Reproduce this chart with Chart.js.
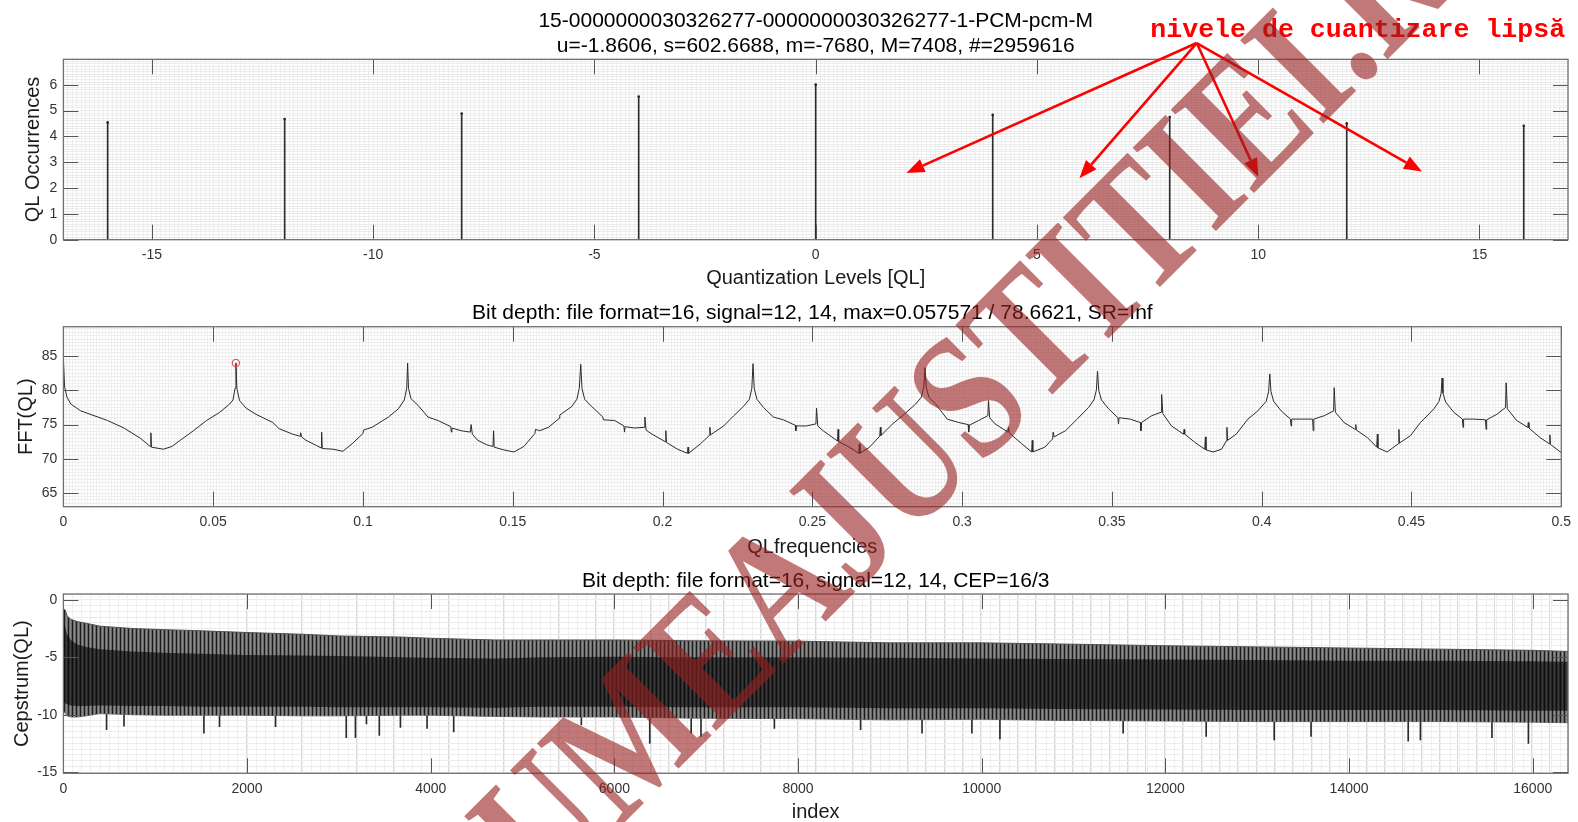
<!DOCTYPE html>
<html>
<head>
<meta charset="utf-8">
<script src="https://cdn.jsdelivr.net/npm/chart.js@4.4.1/dist/chart.umd.min.js"></script>
<style>
  body { margin: 0; background: #fff; }
  #wrap { position: relative; width: 1578px; height: 822px; overflow: hidden; }
  canvas { position: absolute; left: 0; }
</style>
</head>
<body>
<div id="wrap">
  <canvas id="c1" width="1578" height="290" style="top:0"></canvas>
  <canvas id="c2" width="1578" height="270" style="top:290px"></canvas>
  <canvas id="c3" width="1578" height="262" style="top:560px"></canvas>
  <canvas id="wm" width="1578" height="822" style="top:0;pointer-events:none"></canvas>
</div>
<script>
// ---- panel 1: histogram of quantization levels
var qlLevels = [-16, -12, -8, -4, 0, 4, 8, 12, 16];
var qlOccurrences = [4.54, 4.67, 4.88, 5.54, 6.0, 4.83, 4.75, 4.50, 4.41];

// ---- panel 2: FFT of the histogram
var fftFreq = [
  0.0000, 0.0004, 0.0012, 0.0025, 0.0058, 0.0147, 0.0202, 0.0257, 0.0290, 0.0292, 0.0294, 0.0334,
  0.0362, 0.0390, 0.0434, 0.0478, 0.0522, 0.0555, 0.0566, 0.0573, 0.0576, 0.0579, 0.0588, 0.0610,
  0.0643, 0.0699, 0.0720, 0.0765, 0.0790, 0.0792, 0.0795, 0.0810, 0.0842, 0.0860, 0.0862, 0.0864,
  0.0900, 0.0933, 0.0964, 0.1000, 0.1002, 0.1030, 0.1085, 0.1118, 0.1138, 0.1146, 0.1149, 0.1152,
  0.1160, 0.1184, 0.1217, 0.1250, 0.1293, 0.1295, 0.1297, 0.1328, 0.1358, 0.1361, 0.1365, 0.1383,
  0.1416, 0.1434, 0.1436, 0.1438, 0.1470, 0.1504, 0.1537, 0.1574, 0.1576, 0.1590, 0.1619, 0.1655,
  0.1657, 0.1696, 0.1714, 0.1722, 0.1727, 0.1731, 0.1740, 0.1762, 0.1801, 0.1802, 0.1840, 0.1871,
  0.1873, 0.1875, 0.1906, 0.1939, 0.1941, 0.1945, 0.1961, 0.2009, 0.2011, 0.2013, 0.2050, 0.2083,
  0.2085, 0.2087, 0.2127, 0.2156, 0.2158, 0.2160, 0.2204, 0.2238, 0.2271, 0.2290, 0.2298, 0.2302,
  0.2306, 0.2315, 0.2337, 0.2370, 0.2403, 0.2443, 0.2445, 0.2447, 0.2480, 0.2512, 0.2514, 0.2518,
  0.2536, 0.2584, 0.2586, 0.2588, 0.2624, 0.2655, 0.2657, 0.2659, 0.2691, 0.2725, 0.2727, 0.2729,
  0.2768, 0.2801, 0.2845, 0.2864, 0.2872, 0.2876, 0.2880, 0.2889, 0.2912, 0.2950, 0.2989, 0.3020,
  0.3022, 0.3024, 0.3055, 0.3086, 0.3088, 0.3092, 0.3110, 0.3153, 0.3155, 0.3157, 0.3199, 0.3232,
  0.3234, 0.3236, 0.3276, 0.3302, 0.3304, 0.3307, 0.3345, 0.3384, 0.3422, 0.3440, 0.3448, 0.3452,
  0.3456, 0.3465, 0.3489, 0.3520, 0.3522, 0.3524, 0.3561, 0.3595, 0.3597, 0.3599, 0.3633, 0.3664,
  0.3666, 0.3670, 0.3699, 0.3739, 0.3741, 0.3743, 0.3777, 0.3810, 0.3812, 0.3814, 0.3838, 0.3866,
  0.3882, 0.3884, 0.3886, 0.3915, 0.3954, 0.3987, 0.4015, 0.4023, 0.4027, 0.4031, 0.4040, 0.4065,
  0.4096, 0.4098, 0.4100, 0.4131, 0.4170, 0.4172, 0.4174, 0.4209, 0.4240, 0.4242, 0.4246, 0.4275,
  0.4312, 0.4314, 0.4316, 0.4353, 0.4384, 0.4386, 0.4388, 0.4419, 0.4456, 0.4458, 0.4460, 0.4497,
  0.4530, 0.4575, 0.4592, 0.4599, 0.4602, 0.4605, 0.4614, 0.4641, 0.4670, 0.4672, 0.4674, 0.4708,
  0.4747, 0.4749, 0.4751, 0.4785, 0.4814, 0.4816, 0.4820, 0.4851, 0.4888, 0.4890, 0.4892, 0.4929,
  0.4960, 0.4962, 0.4964, 0.5000
];
var fftValue = [
  84.6, 80.5, 79.0, 78.0, 77.0, 75.6, 74.5, 73.0, 71.8, 73.8, 71.7, 71.4,
  71.8, 72.7, 74.1, 75.6, 76.8, 78.0, 78.6, 80.3, 84.0, 80.3, 78.5, 77.4,
  76.5, 75.3, 74.4, 73.6, 73.3, 73.8, 73.2, 72.7, 72.0, 71.6, 73.9, 71.5,
  71.4, 71.1, 72.2, 73.7, 74.2, 74.6, 76.1, 77.3, 78.6, 80.3, 84.0, 80.3,
  78.8, 77.8, 76.1, 75.6, 74.7, 73.9, 74.5, 74.1, 73.9, 75.0, 73.6, 72.7,
  72.0, 71.8, 74.1, 71.7, 71.3, 71.0, 71.8, 73.7, 74.3, 74.1, 74.6, 75.9,
  76.4, 77.6, 78.7, 80.3, 83.8, 80.3, 78.7, 77.7, 76.1, 75.7, 75.6, 74.8,
  73.9, 74.7, 74.5, 74.6, 76.1, 74.2, 73.7, 72.5, 74.1, 72.4, 71.4, 70.8,
  71.7, 70.8, 72.2, 73.4, 74.6, 73.5, 74.8, 76.3, 77.7, 78.7, 80.3, 83.9,
  80.3, 78.7, 77.5, 76.1, 75.7, 74.9, 74.1, 74.8, 74.8, 75.1, 77.4, 74.8,
  74.1, 72.6, 74.3, 72.5, 71.7, 70.8, 72.2, 70.8, 71.7, 73.3, 74.6, 73.4,
  75.1, 76.3, 78.0, 79.0, 80.5, 83.3, 80.5, 79.0, 78.0, 75.8, 75.3, 75.0,
  73.9, 74.9, 75.6, 76.3, 78.5, 76.0, 75.1, 73.9, 74.6, 73.8, 72.2, 71.0,
  72.7, 71.0, 71.7, 72.9, 73.9, 73.2, 74.1, 75.8, 77.5, 78.6, 80.0, 82.8,
  80.0, 78.6, 77.3, 76.0, 75.1, 76.0, 75.8, 75.3, 74.1, 75.3, 76.3, 76.8,
  79.4, 76.6, 74.8, 73.6, 74.3, 73.6, 72.4, 71.4, 73.2, 71.3, 71.0, 71.4,
  72.6, 74.6, 72.7, 73.6, 75.8, 77.0, 78.4, 79.8, 82.4, 79.8, 78.4, 77.0,
  75.8, 74.8, 75.8, 75.8, 75.8, 74.1, 75.8, 76.3, 77.0, 80.4, 76.8, 75.3,
  74.3, 75.0, 74.2, 73.1, 71.7, 73.6, 71.6, 71.0, 72.2, 74.3, 72.3, 73.4,
  75.3, 77.3, 78.4, 79.6, 81.8, 79.6, 78.3, 76.8, 75.8, 74.6, 75.8, 75.8,
  75.7, 74.3, 75.7, 76.5, 77.5, 81.1, 77.3, 75.6, 74.6, 75.3, 74.5, 73.1,
  72.2, 73.5, 72.1, 70.9
];
var fftPeakFreq = 0.057571;
var fftPeakValue = 84.0;

// ---- panel 3: cepstrum, drawn as its envelope band
var cepIndex     = [0, 20, 40, 80, 150, 250, 400, 750, 1100, 1500, 2000, 2600, 3000, 3700, 4000, 4700, 5200, 6000, 6850, 8000, 9000, 10000, 10850, 12000, 13000, 14000, 15000, 16000, 16384];
var cepUpper     = [-0.8, -0.9, -1.4, -1.7, -1.9, -2.05, -2.3, -2.5, -2.6, -2.7, -2.85, -3.0, -3.15, -3.25, -3.35, -3.5, -3.5, -3.5, -3.57, -3.6, -3.75, -3.75, -3.85, -4.0, -4.1, -4.2, -4.3, -4.4, -4.5];
var cepLower     = [-9.6, -9.9, -10.1, -10.2, -10.2, -10.1, -9.9, -10.0, -10.05, -10.05, -10.05, -10.1, -10.1, -10.05, -10.05, -10.15, -10.2, -10.2, -10.3, -10.35, -10.45, -10.4, -10.5, -10.55, -10.6, -10.6, -10.6, -10.65, -10.7];
var cepCoreUpper = [-2.0, -2.4, -3.0, -3.5, -3.9, -4.1, -4.3, -4.5, -4.6, -4.7, -4.8, -4.85, -4.9, -5.0, -5.05, -5.1, -5.0, -4.95, -5.0, -5.0, -5.05, -5.1, -5.15, -5.2, -5.25, -5.3, -5.3, -5.35, -5.4];
var cepCoreLower = [-8.8, -9.0, -9.1, -9.2, -9.25, -9.25, -9.2, -9.25, -9.25, -9.3, -9.3, -9.3, -9.35, -9.35, -9.35, -9.4, -9.3, -9.3, -9.35, -9.35, -9.45, -9.45, -9.5, -9.55, -9.6, -9.6, -9.6, -9.65, -9.65];
var cepSpikeIndex = [470, 660, 1530, 1700, 2310, 3080, 3180, 3300, 3440, 3670, 3960, 4250, 5640, 6385, 6836, 6943, 7742, 8681, 9350, 9893, 10198, 11540, 12444, 13185, 13586, 14644, 14777, 15556, 15953];
var cepSpikeLow   = [-11.3, -11.0, -11.6, -11.05, -11.05, -12.0, -12.0, -10.8, -11.8, -11.1, -11.2, -11.5, -10.9, -12.5, -11.6, -11.9, -11.2, -11.3, -11.6, -11.6, -12.1, -11.6, -11.9, -12.2, -11.9, -12.3, -12.2, -12.0, -12.5];
var cepSpikeTop = -9.4;
var cepTicks = [0, 2000, 4000, 6000, 8000, 10000, 12000, 14000, 16000];

// ---- red note on panel 1 (data coordinates)
var noteText = 'nivele de cuantizare lipsă';
var noteX = 7.56, noteY = 7.84;
var arrowFromX = 8.61, arrowFromY = 7.61;
var arrowTipX = [2.05, 5.96, 10.0, 13.7];
var arrowTipY = [2.58, 2.38, 2.44, 2.64];

var FONT = '"Liberation Sans", Arial, sans-serif';
Chart.defaults.font.family = FONT;
Chart.defaults.animation = false;

function pts(xs, ys) {
  return xs.map(function(v, i) { return {x: v, y: ys[i]}; });
}

function num(v) { return String(Math.round(v * 1000) / 1000); }

// extra axis only used for its grid lines
function gridAxis(pos, min, max, step, color) {
  return {
    type: 'linear', position: pos, min: min, max: max, z: -1, offset: false,
    ticks: {display: false, stepSize: step, includeBounds: false},
    grid: {color: color, drawTicks: false, offset: false},
    border: {display: false},
    afterFit: function(s) { if (pos === 'bottom') s.height = 0; else s.width = 0; }
  };
}

function mainX(min, max, step, title, height, titlePad, fixedTicks) {
  var ax = {
    type: 'linear', position: 'bottom', min: min, max: max, offset: false,
    ticks: {stepSize: step, includeBounds: false, autoSkip: false, maxRotation: 0, padding: 7,
            color: '#333', font: {size: 14}, callback: num},
    grid: {color: '#d6d6d6', drawTicks: false, offset: false},
    border: {display: false},
    title: {display: true, text: title, color: '#1a1a1a', font: {size: 20}, padding: {top: 0, bottom: titlePad}},
    afterFit: function(s) { s.height = height; }
  };
  if (fixedTicks) {
    ax.afterBuildTicks = function(s) { s.ticks = fixedTicks.map(function(v) { return {value: v}; }); };
  }
  return ax;
}

function mainY(min, max, step, title, titlePad) {
  return {
    type: 'linear', position: 'left', min: min, max: max,
    ticks: {stepSize: step, includeBounds: false, padding: 6, color: '#333', font: {size: 14}, callback: num},
    grid: {color: '#d6d6d6', drawTicks: false},
    border: {display: false},
    title: {display: true, text: title, color: '#1a1a1a', font: {size: 20}, padding: {top: titlePad, bottom: 0}},
    afterFit: function(s) { s.width = 63.4; }
  };
}

function titleOpts(text, padTop, padBottom) {
  return {display: true, text: text, fullSize: false, color: '#000',
          font: {size: 21, weight: 'normal', lineHeight: 1.22},
          padding: {top: padTop, bottom: padBottom}};
}

// box around the axes and inward tick marks, matlab style
var axesBox = {
  id: 'axesBox',
  afterDatasetsDraw: function(chart) {
    var ctx = chart.ctx, a = chart.chartArea, sx = chart.scales.x, sy = chart.scales.y;
    var len = 15;
    ctx.save();
    ctx.strokeStyle = '#555';
    ctx.lineWidth = 1;
    ctx.beginPath();
    sx.ticks.forEach(function(t) {
      var p = Math.round(sx.getPixelForValue(t.value)) + 0.5;
      ctx.moveTo(p, a.bottom); ctx.lineTo(p, a.bottom - len);
      ctx.moveTo(p, a.top); ctx.lineTo(p, a.top + len);
    });
    sy.ticks.forEach(function(t) {
      var p = Math.round(sy.getPixelForValue(t.value)) + 0.5;
      ctx.moveTo(a.left, p); ctx.lineTo(a.left + len, p);
      ctx.moveTo(a.right, p); ctx.lineTo(a.right - len, p);
    });
    ctx.stroke();
    ctx.strokeStyle = '#707070';
    ctx.lineWidth = 1.3;
    ctx.strokeRect(a.left, a.top, a.right - a.left, a.bottom - a.top);
    ctx.restore();
  }
};

var noteArrows = {
  id: 'noteArrows',
  afterDraw: function(chart) {
    var ctx = chart.ctx, sx = chart.scales.x, sy = chart.scales.y;
    var ox = sx.getPixelForValue(arrowFromX), oy = sy.getPixelForValue(arrowFromY);
    ctx.save();
    ctx.strokeStyle = '#ff0000';
    ctx.fillStyle = '#ff0000';
    ctx.lineWidth = 2.6;
    arrowTipX.forEach(function(tx, i) {
      var px = sx.getPixelForValue(tx), py = sy.getPixelForValue(arrowTipY[i]);
      var ang = Math.atan2(py - oy, px - ox);
      var hl = 18, hw = 7;
      var bx = px - hl * Math.cos(ang), by = py - hl * Math.sin(ang);
      ctx.beginPath(); ctx.moveTo(ox, oy); ctx.lineTo(bx, by); ctx.stroke();
      ctx.beginPath();
      ctx.moveTo(px, py);
      ctx.lineTo(bx + hw * Math.sin(ang), by - hw * Math.cos(ang));
      ctx.lineTo(bx - hw * Math.sin(ang), by + hw * Math.cos(ang));
      ctx.closePath(); ctx.fill();
    });
    ctx.font = 'bold 26.6px "Liberation Mono", "Courier New", monospace';
    ctx.textBaseline = 'alphabetic';
    ctx.textAlign = 'left';
    ctx.fillText(noteText, sx.getPixelForValue(noteX), sy.getPixelForValue(noteY));
    ctx.restore();
  }
};

function stripes(ctx, cols) {
  var c = document.createElement('canvas');
  c.width = cols.length; c.height = 1;
  var g = c.getContext('2d');
  cols.forEach(function(col, i) { g.fillStyle = col; g.fillRect(i, 0, 1, 1); });
  return ctx.createPattern(c, 'repeat');
}

var common = {
  responsive: false,
  devicePixelRatio: 1,
  animation: false,
  layout: {padding: {left: 0, right: 10, top: 0, bottom: 0}},
  events: []
};

// ---- chart 1
new Chart(document.getElementById('c1'), {
  type: 'scatter',
  data: {
    datasets: [
      {type: 'bar', data: pts(qlLevels, qlOccurrences), backgroundColor: '#2b2b2b', barThickness: 1, order: 2},
      {type: 'scatter', data: pts(qlLevels, qlOccurrences), pointRadius: 1.3, backgroundColor: '#222', borderWidth: 0, order: 1}
    ]
  },
  options: Object.assign({}, common, {
    plugins: {
      legend: {display: false}, tooltip: {enabled: false},
      title: titleOpts(['15-0000000030326277-0000000030326277-1-PCM-pcm-M',
                        'u=-1.8606, s=602.6688, m=-7680, M=7408, #=2959616'], 7.9, 0.2)
    },
    scales: {
      x: mainX(-17, 17, 5, 'Quantization Levels [QL]', 50.3, 0),
      xm: gridAxis('bottom', -17, 17, 0.5, '#d9d9d9'),
      xf: gridAxis('bottom', -17, 17, 0.1, '#eeeeee'),
      y: mainY(0, 6.98, 1, 'QL Occurrences', 21.2),
      yf: gridAxis('left', 0, 6.98, 0.1, '#ebebeb')
    }
  }),
  plugins: [axesBox, noteArrows]
});

// ---- chart 2
new Chart(document.getElementById('c2'), {
  type: 'scatter',
  data: {
    datasets: [
      {type: 'scatter', data: [{x: fftPeakFreq, y: fftPeakValue}], pointRadius: 3.7, pointStyle: 'circle',
       borderColor: '#e03a3a', backgroundColor: 'rgba(0,0,0,0)', borderWidth: 1, order: 1},
      {type: 'line', data: pts(fftFreq, fftValue), borderColor: '#2b2b2b', borderWidth: 1,
       pointRadius: 0, tension: 0, fill: false, order: 2}
    ]
  },
  options: Object.assign({}, common, {
    plugins: {
      legend: {display: false}, tooltip: {enabled: false},
      title: titleOpts('Bit depth: file format=16, signal=12, 14, max=0.057571 / 78.6621, SR=Inf', 10.2, 0.9)
    },
    scales: {
      x: mainX(0, 0.5, 0.05, 'QLfrequencies', 53.3, 0.8),
      xm: gridAxis('bottom', 0, 0.5, 0.005, '#d9d9d9'),
      xf: gridAxis('bottom', 0, 0.5, 0.001, '#f0f0f0'),
      y: mainY(63, 89.3, 5, 'FFT(QL)', 14.2),
      ym: gridAxis('left', 63, 89.3, 1, '#dedede'),
      yf: gridAxis('left', 63, 89.3, 0.5, '#ededed')
    }
  }),
  plugins: [axesBox]
});

// ---- chart 3
var c3 = document.getElementById('c3');
var c3ctx = c3.getContext('2d');
var corePattern = stripes(c3ctx, ['#0d0d0d', '#2c2c2c', '#3a3a3a', '#242424']);
var outerPattern = stripes(c3ctx, ['#1c1c1c', '#6c6c6c', '#8c8c8c', '#666666']);

new Chart(c3, {
  type: 'scatter',
  data: {
    datasets: [
      {type: 'line', data: pts(cepIndex, cepCoreUpper), fill: 1, backgroundColor: corePattern,
       borderWidth: 0, pointRadius: 0, tension: 0, order: 1},
      {type: 'line', data: pts(cepIndex, cepCoreLower), fill: false, borderWidth: 0, pointRadius: 0, tension: 0, order: 1},
      {type: 'line', data: pts(cepIndex, cepUpper), fill: 3, backgroundColor: outerPattern,
       borderColor: '#505050', borderWidth: 1, pointRadius: 0, tension: 0, order: 2},
      {type: 'line', data: pts(cepIndex, cepLower), fill: false, borderColor: '#707070', borderWidth: 1,
       pointRadius: 0, tension: 0, order: 2},
      {type: 'bar', data: cepSpikeIndex.map(function(v, i) { return {x: v, y: [cepSpikeTop, cepSpikeLow[i]]}; }),
       backgroundColor: '#2a2a2a', barThickness: 1, order: 3}
    ]
  },
  options: Object.assign({}, common, {
    plugins: {
      legend: {display: false}, tooltip: {enabled: false},
      title: titleOpts('Bit depth: file format=16, signal=12, 14, CEP=16/3', 7.9, 0.5)
    },
    scales: {
      x: mainX(0, 16384, 2000, 'index', 48.7, -2, cepTicks),
      xm: gridAxis('bottom', 0, 16384, 200, '#d9d9d9'),
      xf: gridAxis('bottom', 0, 16384, 100, '#efefef'),
      y: mainY(-15.1, 0.5, 5, 'Cepstrum(QL)', 10),
      ym: gridAxis('left', -15.1, 0.5, 1, '#dcdcdc'),
      yf: gridAxis('left', -15.1, 0.5, 0.5, '#ececec')
    }
  }),
  plugins: [axesBox]
});

// ---- watermark text over the whole picture (tall, condensed letters)
var wm = document.getElementById('wm').getContext('2d');
wm.save();
wm.translate(477, 970);
wm.rotate(-45 * Math.PI / 180);
wm.scale(0.8, 1);
wm.font = 'bold 180px "Liberation Serif", "Times New Roman", serif';
wm.fillStyle = 'rgba(150, 30, 30, 0.6)';
wm.textBaseline = 'alphabetic';
wm.fillText('LUMEAJUSTITIEI.RO', 0, 0);
wm.restore();
</script>
</body>
</html>
